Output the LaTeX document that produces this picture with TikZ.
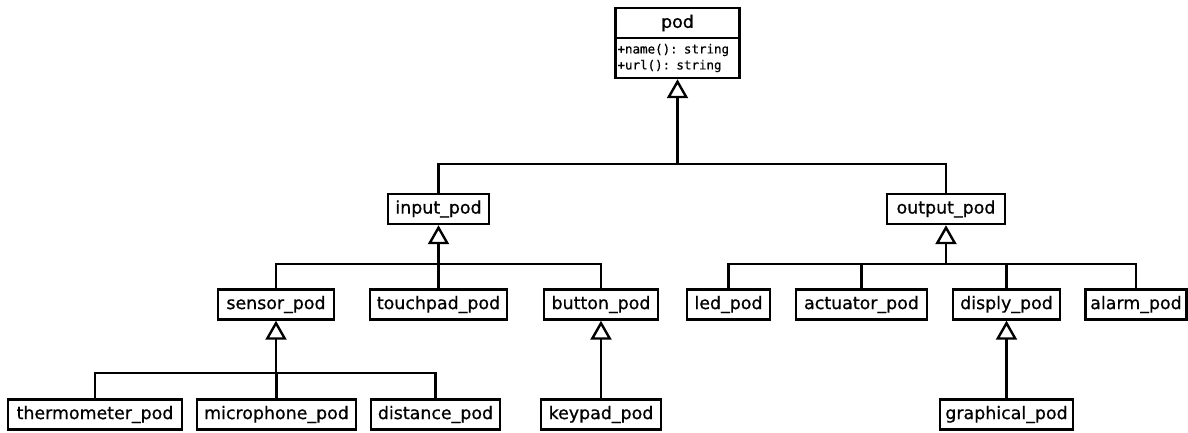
\documentclass[tikz,border=0pt]{standalone}
\usepackage{fontspec}
\setmainfont{DejaVu Sans}[FakeBold=0.7]
\newfontfamily\podmono{DejaVu Sans Mono}[FakeBold=0.6]
\usetikzlibrary{arrows.meta}
\begin{document}
\begin{tikzpicture}[x=1pt,y=-1pt,
  cls/.style={draw, line width=2.4pt, inner sep=0pt, minimum height=30pt,
    font=\fontsize{17.4}{20}\selectfont},
  conn/.style={line width=2.4pt},
  inh/.style={line width=2.4pt, -{Triangle[open,length=19pt,width=21pt]}}]
\useasboundingbox (0,0) rectangle (1188,432);
% top class
\node[cls, minimum width=124pt] (podt) at (677.5,23) {pod};
\node[draw, line width=2.4pt, minimum width=124pt, minimum height=40pt, inner xsep=2pt, inner ysep=0pt,
  text width=120pt, align=left, font=\podmono\fontsize{12.5}{16}\selectfont] (podm) at (677.5,58)
  {+name(): string\\+url(): string};
% level 1
\node[cls, minimum width=101pt] (inp) at (438.5,209) {input\_pod};
\node[cls, minimum width=118pt] (outp) at (946,209) {output\_pod};
% level 2
\node[cls, minimum width=116pt] (sens) at (276,304.5) {sensor\_pod};
\node[cls, minimum width=137pt] (touch) at (438.5,304.5) {touchpad\_pod};
\node[cls, minimum width=114pt] (butt) at (601,304.5) {button\_pod};
\node[cls, minimum width=83pt] (led) at (728.5,304.5) {led\_pod};
\node[cls, minimum width=131pt] (act) at (861.5,304.5) {actuator\_pod};
\node[cls, minimum width=107pt] (disp) at (1006.5,304.5) {disply\_pod};
\node[cls, minimum width=101pt] (alarm) at (1136,304.5) {alarm\_pod};
% level 3
\node[cls, minimum width=174pt] (therm) at (95,414.5) {thermometer\_pod};
\node[cls, minimum width=159pt] (micro) at (276.5,414.5) {microphone\_pod};
\node[cls, minimum width=129pt] (dist) at (435.5,414.5) {distance\_pod};
\node[cls, minimum width=120pt] (keyp) at (601,414.5) {keypad\_pod};
\node[cls, minimum width=133pt] (graph) at (1006.5,414.5) {graphical\_pod};
% junctions
\coordinate (j0) at (677.5,164);
\coordinate (j1) at (438.5,264);
\coordinate (j2) at (946,264);
\coordinate (j3) at (276,373);
% connectors
\draw[conn] (inp.north) |- (j0);
\draw[conn] (outp.north) |- (j0);
\draw[inh] (j0) -- (podm.south);
\draw[conn] (sens.north) |- (j1);
\draw[conn] (touch.north) |- (j1);
\draw[conn] (butt.north) |- (j1);
\draw[inh] (j1) -- (inp.south);
\draw[conn] (led.north) |- (j2);
\draw[conn] (act.north) |- (j2);
\draw[conn] (disp.north) |- (j2);
\draw[conn] (alarm.north) |- (j2);
\draw[inh] (j2) -- (outp.south);
\draw[conn] (therm.north) |- (j3);
\draw[conn] (micro.north) |- (j3);
\draw[conn] (dist.north) |- (j3);
\draw[inh] (j3) -- (sens.south);
\draw[inh] (keyp.north) -- (butt.south);
\draw[inh] (graph.north) -- (disp.south);
\end{tikzpicture}
\end{document}
